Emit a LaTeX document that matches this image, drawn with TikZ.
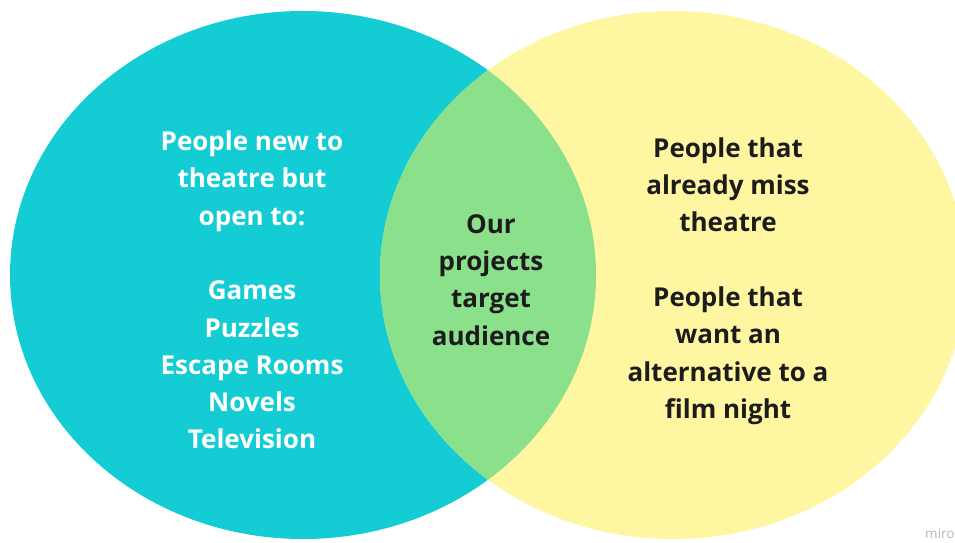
\documentclass[tikz,border=0pt]{standalone}
\usepackage{fontspec}
\setmainfont{Open Sans}
\definecolor{setA}{HTML}{13CCD4}
\definecolor{setB}{HTML}{FEF6A0}
\definecolor{setAB}{HTML}{8BE08B}
\definecolor{ink}{HTML}{1C1C1C}
\definecolor{mark}{HTML}{B8B8B8}
\tikzset{
  label text/.style={align=center, font=\fontsize{26}{37.3}\selectfont\bfseries, inner sep=0pt},
}
\begin{document}
\begin{tikzpicture}[x=1pt,y=-1pt]
  \useasboundingbox (0,0) rectangle (955,542);
  \clip (0,0) rectangle (955,542);
  % the two sets
  \fill[setA] (303,275) ellipse [x radius=293, y radius=264];
  \fill[setB] (673,275) ellipse [x radius=293, y radius=264];
  % overlap of the two sets
  \begin{scope}
    \clip (303,275) ellipse [x radius=293, y radius=264];
    \fill[setAB] (673,275) ellipse [x radius=293, y radius=264];
  \end{scope}
  % labels
  \node[label text, text=white] (left) at (252,290)
    {People new to\\theatre but\\open to:\\[37.3pt]Games\\Puzzles\\Escape Rooms\\Novels\\Television};
  \node[label text, text=ink] (mid) at (491,280)
    {Our\\projects\\target\\audience};
  \node[label text, text=ink] (right) at (728,281)
    {People that\\already miss\\theatre\\[37.3pt]People that\\want an\\alternative to a\\film night};
  \node[anchor=base west, font=\fontsize{13.5}{13.5}\selectfont, text=mark, inner sep=0pt] (brand) at (925,538) {miro};
\end{tikzpicture}
\end{document}
